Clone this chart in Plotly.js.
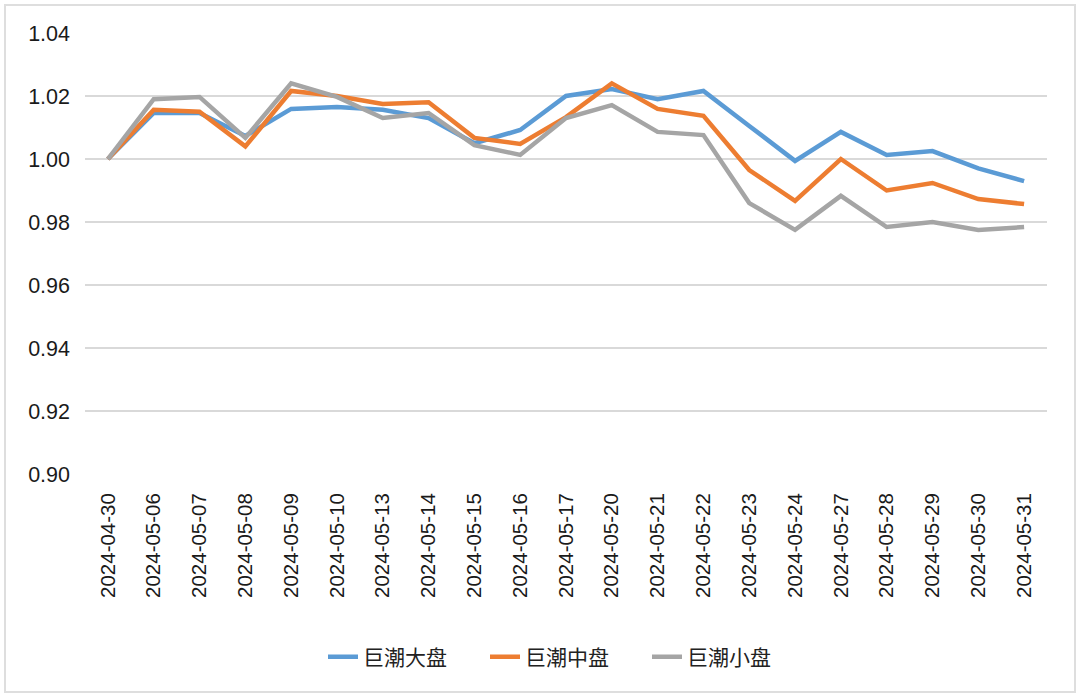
<!DOCTYPE html>
<html>
<head>
<meta charset="utf-8">
<script src="https://cdn.plot.ly/plotly-3.0.1.min.js"></script>
<style>
  body { margin: 0; background: #fff; }
  #frame { position: absolute; left: 4px; top: 4px; width: 1068px; height: 685px; border: 2px solid #dedede; }
  #chart { position: absolute; left: 0; top: 0; width: 1080px; height: 699px; }
</style>
</head>
<body>
<div id="frame"></div>
<div id="chart"></div>
<script>
var dates = ['2024-04-30', '2024-05-06', '2024-05-07', '2024-05-08', '2024-05-09', '2024-05-10',
  '2024-05-13', '2024-05-14', '2024-05-15', '2024-05-16', '2024-05-17', '2024-05-20',
  '2024-05-21', '2024-05-22', '2024-05-23', '2024-05-24', '2024-05-27', '2024-05-28',
  '2024-05-29', '2024-05-30', '2024-05-31'];

var large = [1.000, 1.0146, 1.0146, 1.0073, 1.0159, 1.0165, 1.0156, 1.0130, 1.0050, 1.0092, 1.0200,
  1.0222, 1.0190, 1.0216, 1.0105, 0.9994, 1.0086, 1.0013, 1.0025, 0.9970, 0.9930];
var mid = [1.000, 1.0156, 1.0150, 1.0040, 1.0216, 1.0200, 1.0175, 1.0180, 1.0067, 1.0048, 1.0133,
  1.0240, 1.0159, 1.0137, 0.9965, 0.9867, 1.0000, 0.9900, 0.9924, 0.9873, 0.9857];
var small = [1.000, 1.0190, 1.0197, 1.0067, 1.0240, 1.0197, 1.0130, 1.0146, 1.0044, 1.0013, 1.0130,
  1.0171, 1.0086, 1.0076, 0.9860, 0.9775, 0.9883, 0.9784, 0.9800, 0.9775, 0.9784];

var names = ['巨潮大盘', '巨潮中盘', '巨潮小盘'];
var colors = ['#5b9bd5', '#ed7d31', '#a5a5a5'];
var series = [large, mid, small];

var data = series.map(function (s, i) {
  return {
    x: dates,
    y: s,
    name: names[i],
    type: 'scatter',
    mode: 'lines',
    line: { color: colors[i], width: 4.5 }
  };
});

var layout = {
  width: 1080,
  height: 699,
  margin: { l: 85, r: 33, t: 33, b: 225 },
  paper_bgcolor: 'rgba(0,0,0,0)',
  plot_bgcolor: 'rgba(0,0,0,0)',
  font: { family: 'Liberation Sans, Arial, sans-serif', color: '#1a1a1a' },
  showlegend: true,
  legend: {
    orientation: 'h',
    x: 0.5, xanchor: 'center',
    y: -0.415, yanchor: 'middle',
    font: { family: 'Noto Sans CJK SC, sans-serif', size: 21, color: '#222' },
    itemwidth: 30,
    entrywidth: 117,
    tracegroupgap: 0
  },
  xaxis: {
    type: 'category',
    tickangle: -90,
    tickfont: { size: 20.5 },
    showgrid: false,
    zeroline: false,
    showline: false,
    ticks: '',
    ticklabelstandoff: 14,
    range: [-0.5, 20.5]
  },
  yaxis: {
    range: [0.9, 1.04],
    dtick: 0.02,
    tickformat: '.2f',
    tickfont: { size: 21.5 },
    gridcolor: '#d9d9d9',
    gridwidth: 1.5,
    zeroline: false,
    showline: false,
    ticks: '',
    ticklabelstandoff: 14
  }
};

Plotly.newPlot('chart', data, layout, { displayModeBar: false });
</script>
</body>
</html>
